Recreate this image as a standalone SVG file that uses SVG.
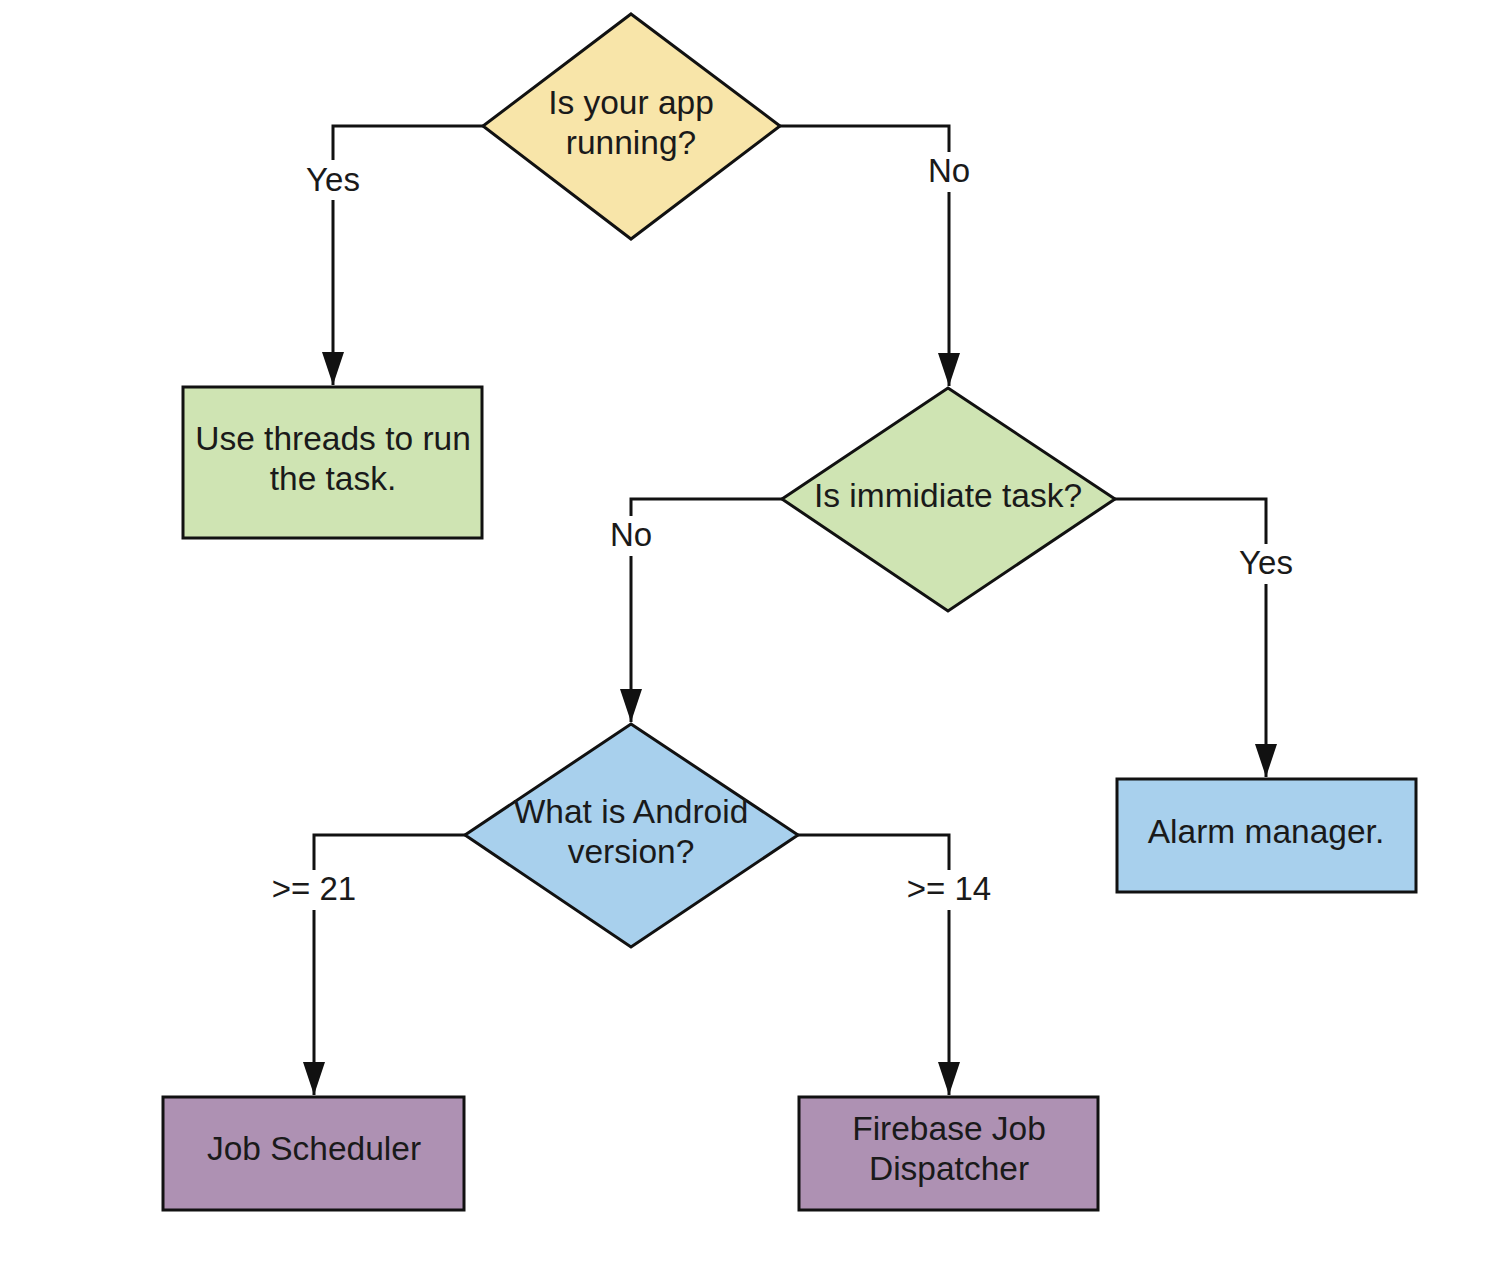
<svg xmlns="http://www.w3.org/2000/svg" width="1498" height="1262" viewBox="0 0 1498 1262">
<defs>
<style>
.shape{stroke:#111;stroke-width:3;stroke-linejoin:miter}
.yellow{fill:#f8e5a9}
.green{fill:#cfe4b3}
.blue{fill:#a8d0ed}
.purple{fill:#ae91b3}
.t{font-family:"Liberation Sans",Arial,sans-serif;font-size:33.5px;fill:#1a1a1a;text-anchor:middle}
.lbl{font-family:"Liberation Sans",Arial,sans-serif;font-size:33px;fill:#1a1a1a;text-anchor:middle}
.edge{fill:none;stroke:#111;stroke-width:3}
.bg{fill:#fff}
</style>
</defs>
<rect width="1498" height="1262" fill="#fff"/>
<g id="connectors">
<path class="edge" d="M483,126 H333 V385"/>
<path class="edge" d="M780,126 H949 V386"/>
<path class="edge" d="M782,499 H631 V722"/>
<path class="edge" d="M1115,499 H1266 V777"/>
<path class="edge" d="M465,835 H314 V1095"/>
<path class="edge" d="M798,835 H949 V1095"/>
<g fill="#111">
<polygon points="322,352 344,352 333,385"/>
<polygon points="938,353 960,353 949,386"/>
<polygon points="620,689 642,689 631,722"/>
<polygon points="1255,744 1277,744 1266,777"/>
<polygon points="303,1062 325,1062 314,1095"/>
<polygon points="938,1062 960,1062 949,1095"/>
</g>
<rect class="bg" x="301" y="160" width="64" height="40"/>
<text class="lbl" x="333" y="191">Yes</text>
<rect class="bg" x="922" y="152" width="54" height="40"/>
<text class="lbl" x="949" y="182">No</text>
<rect class="bg" x="604" y="516" width="54" height="40"/>
<text class="lbl" x="631" y="546">No</text>
<rect class="bg" x="1234" y="544" width="64" height="40"/>
<text class="lbl" x="1266" y="574">Yes</text>
<rect class="bg" x="266" y="870" width="96" height="40"/>
<text class="lbl" x="314" y="900">&gt;= 21</text>
<rect class="bg" x="901" y="870" width="96" height="40"/>
<text class="lbl" x="949" y="900">&gt;= 14</text>
</g>
<g id="app-running">
<polygon class="shape yellow" points="631,14 780,126 631,239 483,126"/>
<text class="t" x="631" y="114">Is your app</text>
<text class="t" x="631" y="154">running?</text>
</g>
<g id="threads">
<rect class="shape green" x="183" y="387" width="299" height="151"/>
<text class="t" x="333" y="450">Use threads to run</text>
<text class="t" x="333" y="490">the task.</text>
</g>
<g id="immediate">
<polygon class="shape green" points="948,388 1115,499 948,611 782,499"/>
<text class="t" x="948" y="507">Is immidiate task?</text>
</g>
<g id="android-version">
<polygon class="shape blue" points="631,724 798,835 631,947 465,835"/>
<text class="t" x="631" y="823">What is Android</text>
<text class="t" x="631" y="863">version?</text>
</g>
<g id="alarm">
<rect class="shape blue" x="1117" y="779" width="299" height="113"/>
<text class="t" x="1266" y="843">Alarm manager.</text>
</g>
<g id="job-scheduler">
<rect class="shape purple" x="163" y="1097" width="301" height="113"/>
<text class="t" x="314" y="1160">Job Scheduler</text>
</g>
<g id="firebase">
<rect class="shape purple" x="799" y="1097" width="299" height="113"/>
<text class="t" x="949" y="1140">Firebase Job</text>
<text class="t" x="949" y="1180">Dispatcher</text>
</g>
</svg>
